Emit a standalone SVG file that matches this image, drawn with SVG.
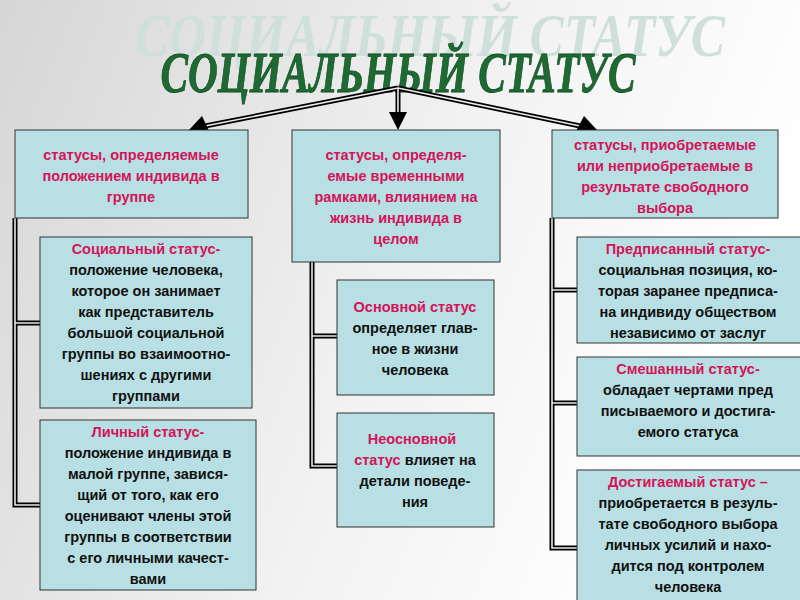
<svg xmlns="http://www.w3.org/2000/svg" width="800" height="600" viewBox="0 0 800 600">
<defs>
<linearGradient id="bg" x1="0" y1="0" x2="1" y2="0.3"><stop offset="0" stop-color="#d6d6d6"/><stop offset="0.6" stop-color="#f2f2f2"/><stop offset="1" stop-color="#ffffff"/></linearGradient>
<style>
.box{fill:#b8dfe3;stroke:#333;stroke-width:1}
.t{font-family:"Liberation Sans",Arial,sans-serif;font-weight:bold;font-size:14.5px;text-anchor:middle;fill:#111}
.p{fill:#d4145a}
.ln{fill:none;stroke:#000;stroke-width:5}
.li{fill:none;stroke:#e8e8e8;stroke-width:1.6}
</style>
</defs>
<rect width="800" height="600" fill="url(#bg)"/>
<text x="430" y="56" font-family="Liberation Serif,serif" font-style="italic" font-weight="bold" font-size="62" fill="#cfe0dc" text-anchor="middle" textLength="590" lengthAdjust="spacingAndGlyphs">СОЦИАЛЬНЫЙ СТАТУС</text>
<text x="398" y="92" font-family="Liberation Serif,serif" font-style="italic" font-weight="bold" font-size="58" fill="#1d6b32" stroke="#0e4a20" stroke-width="0.8" text-anchor="middle" textLength="475" lengthAdjust="spacingAndGlyphs">СОЦИАЛЬНЫЙ  СТАТУС</text>
<g id="connectors">
<path class="ln" d="M398,88 L205,126 M398,88 V116 M398,88 L580,126"/>
<path class="li" d="M398,88 L205,126 M398,88 V116 M398,88 L580,126"/>
<polygon points="188,131 202,116 210,133"/>
<polygon points="398,130 389,112 407,112"/>
<polygon points="598,131 575,133 584,116"/>
<path class="ln" d="M15,218 V505 H40 M15,323 H40"/>
<path class="li" d="M15,218 V505 H40 M15,323 H40"/>
<path class="ln" d="M312,262 V466 H337 M312,336 H337"/>
<path class="li" d="M312,262 V466 H337 M312,336 H337"/>
<path class="ln" d="M552,218 V548 H577 M552,290 H577 M552,403 H577"/>
<path class="li" d="M552,218 V548 H577 M552,290 H577 M552,403 H577"/>
</g>
<g id="left-top"><rect class="box" x="15" y="130" width="233" height="88"/>
<text class="t p"><tspan x="131" y="160">статусы, определяемые</tspan><tspan x="131" y="181">положением индивида в</tspan><tspan x="131" y="202">группе</tspan></text></g>
<g id="social"><rect class="box" x="40" y="237" width="212" height="171"/>
<text class="t"><tspan x="146" y="254" class="p">Социальный статус-</tspan><tspan x="146" y="275">положение человека,</tspan><tspan x="146" y="296">которое он занимает</tspan><tspan x="146" y="317">как представитель</tspan><tspan x="146" y="338">большой социальной</tspan><tspan x="146" y="359">группы во взаимоотно-</tspan><tspan x="146" y="380">шениях с другими</tspan><tspan x="146" y="401">группами</tspan></text></g>
<g id="personal"><rect class="box" x="40" y="420" width="216" height="170"/>
<text class="t"><tspan x="148" y="437" class="p">Личный статус-</tspan><tspan x="148" y="458">положение индивида в</tspan><tspan x="148" y="479">малой группе, завися-</tspan><tspan x="148" y="500">щий от того, как его</tspan><tspan x="148" y="521">оценивают члены этой</tspan><tspan x="148" y="542">группы в соответствии</tspan><tspan x="148" y="563">с его личными качест-</tspan><tspan x="148" y="584">вами</tspan></text></g>
<g id="mid-top"><rect class="box" x="292" y="130" width="208" height="132"/>
<text class="t p"><tspan x="396" y="160">статусы, определя-</tspan><tspan x="396" y="181">емые временными</tspan><tspan x="396" y="202">рамками, влиянием на</tspan><tspan x="396" y="223">жизнь индивида в</tspan><tspan x="396" y="244">целом</tspan></text></g>
<g id="basic"><rect class="box" x="337" y="280" width="157" height="115"/>
<text class="t"><tspan x="415" y="312" class="p">Основной статус</tspan><tspan x="415" y="333">определяет глав-</tspan><tspan x="415" y="354">ное в жизни</tspan><tspan x="415" y="375">человека</tspan></text></g>
<g id="nonbasic"><rect class="box" x="337" y="413" width="157" height="114"/>
<text class="t"><tspan x="412" y="444" class="p">Неосновной</tspan><tspan x="415" y="465"><tspan class="p">статус</tspan> влияет на</tspan><tspan x="415" y="486">детали поведе-</tspan><tspan x="415" y="507">ния</tspan></text></g>
<g id="right-top"><rect class="box" x="552" y="130" width="226" height="88"/>
<text class="t p"><tspan x="665" y="150">статусы, приобретаемые</tspan><tspan x="665" y="171">или неприобретаемые в</tspan><tspan x="665" y="192">результате свободного</tspan><tspan x="665" y="213">выбора</tspan></text></g>
<g id="prescribed"><rect class="box" x="577" y="237" width="226" height="106"/>
<text class="t"><tspan x="688" y="254" class="p">Предписанный статус-</tspan><tspan x="688" y="275">социальная позиция, ко-</tspan><tspan x="688" y="296">торая заранее предписа-</tspan><tspan x="688" y="317">на индивиду обществом</tspan><tspan x="688" y="338">независимо от заслуг</tspan></text></g>
<g id="mixed"><rect class="box" x="577" y="357" width="226" height="99"/>
<text class="t"><tspan x="688" y="374" class="p">Смешанный статус-</tspan><tspan x="688" y="395">обладает чертами пред</tspan><tspan x="688" y="416">писываемого и достига-</tspan><tspan x="688" y="437">емого статуса</tspan></text></g>
<g id="achieved"><rect class="box" x="577" y="470" width="226" height="135"/>
<text class="t"><tspan x="688" y="487" class="p">Достигаемый статус –</tspan><tspan x="688" y="508">приобретается в резуль-</tspan><tspan x="688" y="529">тате свободного выбора</tspan><tspan x="688" y="550">личных усилий и нахо-</tspan><tspan x="688" y="571">дится под контролем</tspan><tspan x="688" y="592">человека</tspan></text></g>
</svg>
